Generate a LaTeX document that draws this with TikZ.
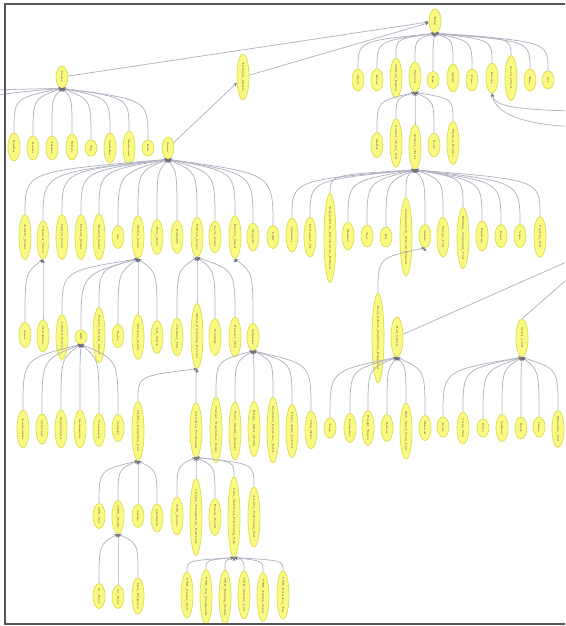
\documentclass[tikz,border=0pt]{standalone}
\usetikzlibrary{shapes.geometric,arrows.meta,calc}

\definecolor{clsfill}{RGB}{250,250,130}
\definecolor{clsline}{RGB}{220,220,80}
\definecolor{edgegray}{RGB}{178,178,192}
\definecolor{tipgray}{RGB}{110,110,122}
\definecolor{framegray}{RGB}{85,85,85}

\newcommand{\vtext}[1]{\rotatebox{-90}{#1}}

\tikzset{
  cls/.style={ellipse, draw=clsline, fill=clsfill, line width=0.7pt, inner sep=0pt,
    minimum width=12, minimum height=#1, text=black!85, font=\fontsize{2.6}{3}\selectfont},
  edgeline/.style={draw=edgegray, line width=0.75pt},
  isa/.style={edgeline, <-, >={Stealth[length=3.5pt,width=3pt,color=tipgray]},
    to path={.. controls ($(\tikztotarget|-\tikztostart)!0.22!(\tikztotarget)$) .. (\tikztotarget)}},
  up/.style={edgeline, -{Stealth[length=3.5pt,width=3pt,color=tipgray]}}
}

\begin{document}
\begin{tikzpicture}[x=1pt,y=-1pt]
    \clip (0,0) rectangle (565,626);
    % top of the tree
    \node[cls=24] (r) at (435,21) {\vtext{Thing}};
    \node[cls=22] (r1) at (358,80) {\vtext{Agent}};
    \node[cls=22] (r2) at (377,80) {\vtext{Event}};
    \node[cls=40] (r3) at (396,78) {\vtext{Abstract\_Region}};
    \node[cls=30] (r4) at (415,77) {\vtext{Physical}};
    \node[cls=17] (r5) at (433,80) {\vtext{Role}};
    \node[cls=28] (r6) at (453,78) {\vtext{Quality}};
    \node[cls=22] (r7) at (472,80) {\vtext{Place}};
    \node[cls=30] (r8) at (492,78) {\vtext{Process}};
    \node[cls=45] (r9) at (511,78) {\vtext{Social\_Object}};
    \node[cls=22] (r10) at (530,80) {\vtext{Time}};
    \node[cls=18] (r11) at (548,80) {\vtext{Set}};
    \node[cls=22] (a) at (62,77) {\vtext{Device}};
    \node[cls=46] (b) at (243,77) {\vtext{Technical\_System}};

    % second row
    \node[cls=28] (a1) at (14,147) {\vtext{Emitter}};
    \node[cls=24] (a2) at (33,148) {\vtext{Reader}};
    \node[cls=24] (a3) at (52,148) {\vtext{Antenna}};
    \node[cls=26] (a4) at (72,147) {\vtext{Battery}};
    \node[cls=16] (a5) at (91,148) {\vtext{Tag}};
    \node[cls=30] (a6) at (110,148) {\vtext{Controller}};
    \node[cls=34] (a7) at (129,148) {\vtext{Transceiver}};
    \node[cls=16] (a8) at (148,148) {\vtext{Hub}};
    \node[cls=22] (c) at (168,148) {\vtext{Sensor}};
    \node[cls=25] (s1) at (377,145) {\vtext{Matter}};
    \node[cls=48] (s2) at (396,143) {\vtext{Natural\_Object\_Part}};
    \node[cls=45] (s3) at (415,147) {\vtext{Artifact\_Object}};
    \node[cls=24] (s4) at (434,145) {\vtext{Body}};
    \node[cls=43] (s5) at (453,143) {\vtext{Physical\_Feature}};

    % third row
    \node[cls=45] (c1) at (25,237) {\vtext{Acoustic\_Sensor}};
    \node[cls=36] (c2) at (43,240) {\vtext{Chemical\_Sensor}};
    \node[cls=45] (c3) at (62,237) {\vtext{Optical\_Sensor}};
    \node[cls=45] (c4) at (81,237) {\vtext{Pressure\_Sensor}};
    \node[cls=46] (c5) at (99,237) {\vtext{Thermal\_Sensor}};
    \node[cls=23] (c6) at (118,237) {\vtext{Gas}};
    \node[cls=43] (c7) at (138,237) {\vtext{Motion\_Sensor}};
    \node[cls=35] (c8) at (157,237) {\vtext{Flow\_Meter}};
    \node[cls=33] (c9) at (177,237) {\vtext{Humidity}};
    \node[cls=40] (c10) at (197,237) {\vtext{Position\_Sensor}};
    \node[cls=32] (c11) at (215,237) {\vtext{Level\_Gauge}};
    \node[cls=43] (c12) at (235,237) {\vtext{Electric\_Sensor}};
    \node[cls=28] (c13) at (253,237) {\vtext{Magnetic}};
    \node[cls=23] (c14) at (273,237) {\vtext{Light}};
    \node[cls=34] (e1) at (292,235) {\vtext{Container}};
    \node[cls=40] (e2) at (310,237) {\vtext{Instrument\_Set}};
    \node[cls=80] (e3) at (330,238) {\vtext{Transportation\_Infrastructure\_Element}};
    \node[cls=28] (e4) at (348,236) {\vtext{Machine}};
    \node[cls=22] (e5) at (367,236) {\vtext{Tool}};
    \node[cls=20] (e6) at (386,237) {\vtext{Kit}};
    \node[cls=71] (e7) at (406,237) {\vtext{Communication\_Network\_Element}};
    \node[cls=23] (e8) at (425,236) {\vtext{Vehicle}};
    \node[cls=40] (e9) at (443,237) {\vtext{Storage\_Unit}};
    \node[cls=57] (e10) at (463,238) {\vtext{Building\_Component\_Unit}};
    \node[cls=30] (e11) at (482,236) {\vtext{Furniture}};
    \node[cls=23] (e12) at (501,236) {\vtext{Panel}};
    \node[cls=23] (e13) at (520,236) {\vtext{Valve}};
    \node[cls=41] (e14) at (540,237) {\vtext{Pipeline\_Part}};

    % fourth row
    \node[cls=25] (g1) at (25,335) {\vtext{Sonar}};
    \node[cls=32] (g2) at (43,336) {\vtext{Microphone}};
    \node[cls=45] (g3) at (62,337) {\vtext{Infrared\_Detector}};
    \node[cls=14] (z) at (81,337) {\vtext{IMU}};
    \node[cls=55] (g5) at (99,335) {\vtext{Passive\_Infrared\_Sensor}};
    \node[cls=23] (g6) at (118,336) {\vtext{Radar}};
    \node[cls=45] (g7) at (138,337) {\vtext{Vibration\_Sensor}};
    \node[cls=33] (g8) at (157,337) {\vtext{Tilt\_Switch}};
    \node[cls=38] (g9) at (177,337) {\vtext{Odometer\_Unit}};
    \node[cls=62] (g10) at (197,336) {\vtext{Global\_Positioning\_Receiver}};
    \node[cls=37] (g11) at (215,337) {\vtext{Proximity}};
    \node[cls=40] (g12) at (235,337) {\vtext{Encoder\_Disk}};
    \node[cls=27] (g13) at (253,337) {\vtext{Voltmeter}};
    \node[cls=83] (f1) at (378,338) {\vtext{Road\_Vehicle\_Maintenance\_Equipment}};
    \node[cls=40] (f2) at (397,337) {\vtext{Rail\_Vehicle}};
    \node[cls=38] (p) at (522,338) {\vtext{Water\_Craft}};

    % fifth row
    \node[cls=38] (h1) at (23,429) {\vtext{Accelerometer}};
    \node[cls=30] (h2) at (42,429) {\vtext{Gyroscope}};
    \node[cls=38] (h3) at (61,429) {\vtext{Magnetometer}};
    \node[cls=38] (h4) at (80,429) {\vtext{Inclinometer}};
    \node[cls=33] (h5) at (99,430) {\vtext{Tachometer}};
    \node[cls=27] (h6) at (118,428) {\vtext{Compass}};
    \node[cls=52] (h7) at (138,431) {\vtext{Satellite\_Navigation\_Unit}};
    \node[cls=54] (k) at (196,430) {\vtext{Terrestrial\_Positioning}};
    \node[cls=65] (m1) at (216,430) {\vtext{Current\_Transformer\_Sensor}};
    \node[cls=58] (m2) at (235,431) {\vtext{Power\_Quality\_Analyser}};
    \node[cls=55] (m3) at (254,429) {\vtext{Energy\_Meter\_Module}};
    \node[cls=65] (m4) at (273,430) {\vtext{Insulation\_Resistance\_Tester}};
    \node[cls=53] (m5) at (292,431) {\vtext{Phase\_Angle\_Detector}};
    \node[cls=38] (m6) at (311,430) {\vtext{Ohm\_Meter}};
    \node[cls=20] (n1) at (330,428) {\vtext{Tram}};
    \node[cls=29] (n2) at (350,428) {\vtext{Locomotive}};
    \node[cls=35] (n3) at (368,428) {\vtext{Freight\_Wagon}};
    \node[cls=27] (n4) at (387,428) {\vtext{Railcar}};
    \node[cls=52] (n5) at (406,431) {\vtext{High\_Speed\_Train\_Unit}};
    \node[cls=25] (n6) at (425,428) {\vtext{Monorail}};
    \node[cls=20] (p1) at (443,427) {\vtext{Yacht}};
    \node[cls=32] (p2) at (463,428) {\vtext{Cargo\_Ship}};
    \node[cls=18] (p3) at (483,428) {\vtext{Ferry}};
    \node[cls=27] (p4) at (502,428) {\vtext{Sailboat}};
    \node[cls=22] (p5) at (521,428) {\vtext{Barge}};
    \node[cls=20] (p6) at (539,427) {\vtext{Canoe}};
    \node[cls=37] (p7) at (558,429) {\vtext{Submarine\_Unit}};

    % sixth and seventh rows
    \node[cls=25] (q1) at (99,516) {\vtext{GPS\_Unit}};
    \node[cls=33] (q2) at (118,517) {\vtext{GNSS\_Module}};
    \node[cls=23] (q3) at (138,516) {\vtext{Galileo}};
    \node[cls=28] (q4) at (157,518) {\vtext{GLONASS}};
    \node[cls=38] (u1) at (177,516) {\vtext{WiFi\_Locator}};
    \node[cls=67] (u2) at (196,517) {\vtext{Cellular\_Triangulation\_Positioner}};
    \node[cls=37] (u3) at (215,517) {\vtext{Beacon\_Reader}};
    \node[cls=63] (u) at (234,517) {\vtext{Ultra\_Wideband\_Positioning\_Node}};
    \node[cls=58] (u5) at (254,517) {\vtext{Acoustic\_Positioning\_Unit}};
    \node[cls=25] (v1) at (99,596) {\vtext{L1\_Band}};
    \node[cls=23] (v2) at (118,597) {\vtext{L2\_Band}};
    \node[cls=35] (v3) at (138,596) {\vtext{Dual\_Frequency}};
    \node[cls=43] (w1) at (187,595) {\vtext{UWB\_Anchor\_Node}};
    \node[cls=48] (w2) at (206,597) {\vtext{UWB\_Tag\_Transponder}};
    \node[cls=45] (w3) at (225,597) {\vtext{UWB\_Ranging\_Module}};
    \node[cls=43] (w4) at (244,595) {\vtext{UWB\_Gateway\_Unit}};
    \node[cls=45] (w5) at (263,597) {\vtext{UWB\_Timing\_Server}};
    \node[cls=43] (w6) at (283,595) {\vtext{UWB\_Reference\_Tag}};

    % ends of links that leave the picture
    \coordinate (offl1) at (-20,96);
    \coordinate (offl2) at (-20,120);
    \coordinate (offr1) at (580,111);
    \coordinate (offr2) at (580,127);
    \coordinate (offr3) at (580,256);
    \coordinate (offr4) at (580,268);

    % is-a links
    \draw[up] (a) -- (r);
    \draw[up] (b) -- (r);
    \draw[up] (c) -- (b);
    \path[isa] (r.south) edge (r1.north) edge (r2.north) edge (r3.north) edge (r4.north)
        edge (r5.north) edge (r6.north) edge (r7.north) edge (r8.north) edge (r9.north)
        edge (r10.north) edge (r11.north);
    \path[isa] (a.south) edge (a1.north) edge (a2.north) edge (a3.north) edge (a4.north)
        edge (a5.north) edge (a6.north) edge (a7.north) edge (a8.north)
        edge (offl1) edge (offl2);
    \path[isa] (r4.south) edge (s1.north) edge (s2.north) edge (s3.north) edge (s4.north)
        edge (s5.north);
    \draw[up] (offr1) .. controls (505,110) and (494,104) .. (r8.south);
    \draw[up] (offr2) .. controls (510,125) and (494,108) .. (r8.south);
    \path[isa] (c.south) edge (c1.north) edge (c2.north) edge (c3.north) edge (c4.north)
        edge (c5.north) edge (c6.north) edge (c7.north) edge (c8.north) edge (c9.north)
        edge (c10.north) edge (c11.north) edge (c12.north) edge (c13.north) edge (c14.north);
    \path[isa] (s3.south) edge (e1.north) edge (e2.north) edge (e3.north) edge (e4.north)
        edge (e5.north) edge (e6.north) edge (e7.north) edge (e8.north) edge (e9.north)
        edge (e10.north) edge (e11.north) edge (e12.north) edge (e13.north) edge (e14.north);
    \path[isa] (e8.south) edge (f1.north);
    \path[isa] (c2.south) edge (g1.north) edge (g2.north);
    \path[isa] (c7.south) edge (g3.north) edge (z.north) edge (g5.north) edge (g6.north)
        edge (g7.north) edge (g8.north);
    \path[isa] (c10.south) edge (g9.north) edge (g10.north) edge (g11.north) edge (g12.north);
    \path[isa] (c12.south) edge (g13.north);
    \path[isa] (z.south) edge (h1.north) edge (h2.north) edge (h3.north) edge (h4.north)
        edge (h5.north) edge (h6.north);
    \path[isa] (g10.south) edge (h7.north) edge (k.north);
    \path[isa] (g13.south) edge (m1.north) edge (m2.north) edge (m3.north) edge (m4.north)
        edge (m5.north) edge (m6.north);
    \path[isa] (f2.south) edge (n1.north) edge (n2.north) edge (n3.north) edge (n4.north)
        edge (n5.north) edge (n6.north);
    \path[isa] (p.south) edge (p1.north) edge (p2.north) edge (p3.north) edge (p4.north)
        edge (p5.north) edge (p6.north) edge (p7.north);
    \path[isa] (h7.south) edge (q1.north) edge (q2.north) edge (q3.north) edge (q4.north);
    \path[isa] (k.south) edge (u1.north) edge (u2.north) edge (u3.north) edge (u.north)
        edge (u5.north);
    \path[isa] (q2.south) edge (v1.north) edge (v2.north) edge (v3.north);
    \path[isa] (u.south) edge (w1.north) edge (w2.north) edge (w3.north) edge (w4.north)
        edge (w5.north) edge (w6.north);
    \draw[edgeline] (f2) -- (offr3);
    \draw[edgeline] (p.north) -- (offr4);

    % frame
    \draw[framegray, line width=1.3pt] (566,4) -- (5,4) -- (5,624) -- (566,624);
\end{tikzpicture}
\end{document}
